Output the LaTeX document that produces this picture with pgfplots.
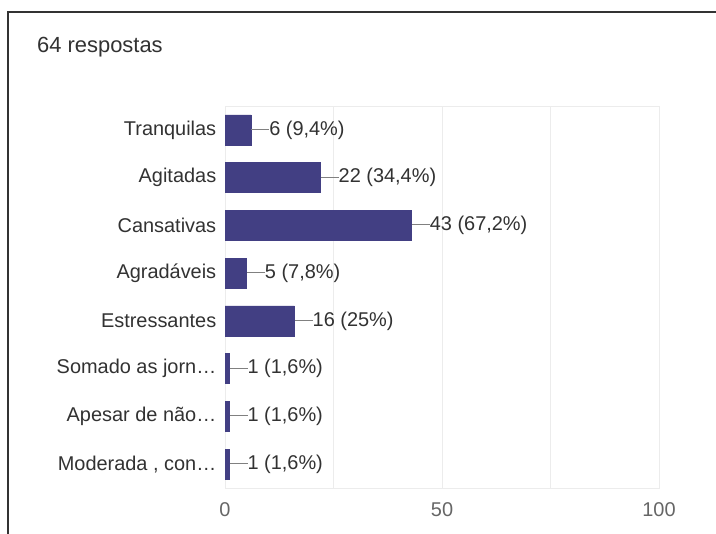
\documentclass[border=0pt]{standalone}
\usepackage{pgfplots}
\pgfplotsset{compat=1.18}
\usepackage{fontspec}
\setmainfont{Liberation Sans}
\definecolor{barc}{RGB}{66,63,131}
\definecolor{txt}{RGB}{50,50,50}
\definecolor{gridc}{RGB}{236,236,236}
\begin{document}
\begin{tikzpicture}
\useasboundingbox (0,0) rectangle (716bp,534bp);
\fill[white] (0,0) rectangle (716bp,534bp);
\draw[line width=1.4bp, black!80] (8bp,0) -- (8bp,522bp) -- (716bp,522bp);
\node[anchor=base west, text=txt, font=\fontsize{22}{26}\selectfont, inner sep=0pt] at (37bp,481bp) {64 respostas};
\begin{axis}[
  at={(225bp,46bp)}, anchor=south west,
  scale only axis, width=434bp, height=382bp,
  xbar, bar width=30bp,
  xmin=0, xmax=100, ymin=-0.5, ymax=7.5,
  y dir=reverse,
  xtick={0,25,50,75,100}, xticklabels={0,,50,,100},
  ytick={0,...,7},
  yticklabels={Tranquilas,Agitadas,Cansativas,Agradáveis,Estressantes,Somado as jorn…,Apesar de não…,{Moderada , con…}},
  xmajorgrids,
  major grid style={gridc, line width=1bp},
  axis line style={gridc, line width=1bp},
  tick style={draw=none},
  ticklabel style={text=txt, font=\fontsize{20}{24}\selectfont},
  xticklabel style={yshift=-11bp, text=black!60},
  yticklabel style={xshift=-1bp},
  extra x ticks={0}, extra x tick labels={},
  extra x tick style={grid style={black!80, line width=1.3bp}},
  point meta=explicit symbolic,
  nodes near coords={\textcolor{black!50}{\rule[0.26em]{18bp}{1bp}}\pgfplotspointmeta},
  nodes near coords style={anchor=west, inner xsep=0pt, text=txt, font=\fontsize{20}{24}\selectfont},
  clip=false,
]
\addplot[draw=barc, fill=barc, line width=0.5bp] coordinates {
  (6,0) [6 (9,4\%)]
  (22,1) [22 (34,4\%)]
  (43,2) [43 (67,2\%)]
  (5,3) [5 (7,8\%)]
  (16,4) [16 (25\%)]
  (1,5) [1 (1,6\%)]
  (1,6) [1 (1,6\%)]
  (1,7) [1 (1,6\%)]
};
\end{axis}
\end{tikzpicture}
\end{document}
